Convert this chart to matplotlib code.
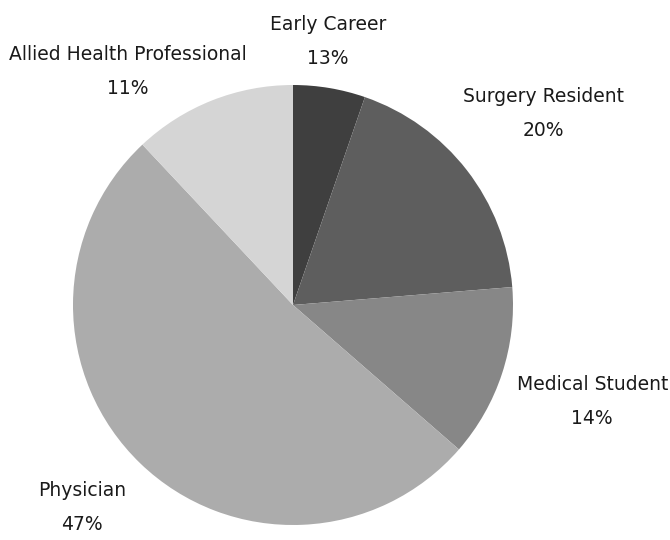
import matplotlib.pyplot as plt

# pie data
categories = ["Early Career", "Surgery Resident", "Medical Student", "Physician", "Allied Health Professional"]
slice_sizes = [5.3, 18.4, 12.7, 51.6, 12.0]
pct_labels = ["13%", "20%", "14%", "47%", "11%"]

colors = ["#3f3f3f", "#5e5e5e", "#878787", "#acacac", "#d5d5d5"]
# label centres, in units of the pie radius
label_pos = [(0.16, 1.20), (1.14, 0.87), (1.36, -0.44), (-0.96, -0.92), (-0.75, 1.06)]

plt.rcParams['font.family'] = ['DejaVu Sans Condensed', 'Liberation Sans Narrow', 'DejaVu Sans']

fig = plt.figure(figsize=(6.7, 5.4), dpi=100)
ax = fig.add_axes([73 / 670, 15 / 540, 440 / 670, 440 / 540])

ax.pie(slice_sizes, colors=colors, startangle=90, counterclock=False,
       radius=1, wedgeprops={'linewidth': 0})

for name, pct, (x, y) in zip(categories, pct_labels, label_pos):
    ax.text(x, y, name + "\n" + pct, ha='center', va='center',
            fontsize=13.5, color='#1a1a1a', linespacing=2.0)

ax.set_xlim(-1, 1)
ax.set_ylim(-1, 1)
ax.set_aspect('equal')
ax.axis('off')

fig.savefig("out.png", dpi=100)
